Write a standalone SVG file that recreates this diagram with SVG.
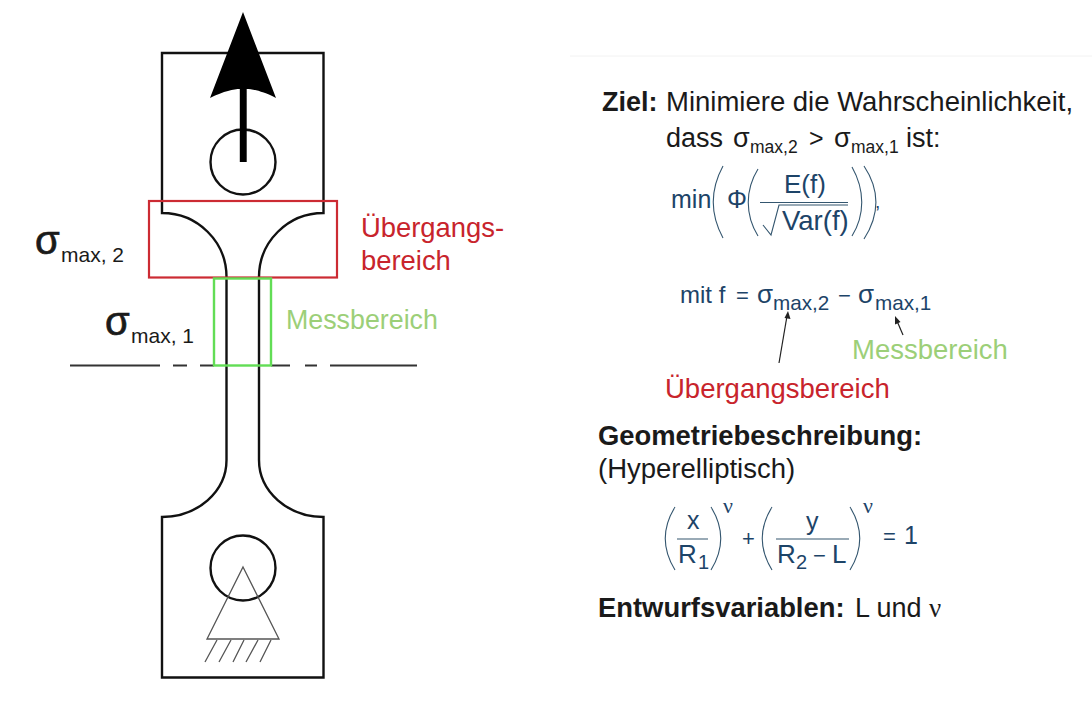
<svg xmlns="http://www.w3.org/2000/svg" width="1092" height="703" viewBox="0 0 1092 703">
<defs>
<style>
text{font-family:"Liberation Sans",Arial,sans-serif;white-space:pre}
.k{fill:#1a1a1a}
.b{font-weight:bold}
.m{fill:#1d4468}
.r{fill:#c8242c}
.g{fill:#9ccf78}
.o{fill:none;stroke:#111;stroke-width:2.4}
.t{fill:none;stroke:#555;stroke-width:1.3}
.p{fill:none;stroke:#34566f;stroke-width:1.1}
.a{fill:none;stroke:#222;stroke-width:1.2}
.s{font-family:"Liberation Serif",serif}
.h{stroke:#1a1a1a;stroke-width:.7}
</style>
</defs>
<rect width="1092" height="703" fill="#fff"/>
<line x1="570" y1="56" x2="1092" y2="56" stroke="#f2f2f2"/>
<g id="specimen">
<path class="o" d="M243 53H162V213A64.500 64 0 0 1 226.500 277V460A64.500 57 0 0 1 162 517V677.500H323.500V517A64.500 57 0 0 1 259 460V277A64.500 64 0 0 1 323.500 213V53H243"/>
</g>
<g id="hole-top"><circle class="o" cx="243" cy="162" r="32.500"/></g>
<g id="hole-bottom"><circle class="o" cx="243" cy="568" r="32.500"/></g>
<g id="section-line"><path fill="none" stroke="#333" stroke-width="1.800" d="M70 365.500H160M173 365.500H187M200 365.500H214M271 365.500H290M305 365.500H317M330 365.500H417"/></g>
<g id="support">
<path class="t" d="M243 567L279 639H207Z"/>
<path class="t" d="M217 640L205 662M231 640L219 662M244 640L233 662M258 640L246 662M271 640L260 662"/>
</g>
<g id="region-transition"><rect x="149" y="201" width="188" height="76.500" fill="none" stroke="#cc2b33" stroke-width="2.200"/></g>
<g id="region-measure"><rect x="214" y="278.500" width="57" height="87" fill="none" stroke="#62dd55" stroke-width="2.400"/></g>
<g id="connectors">
<path fill="#000" d="M243 12L276 98C262 91 252 89 246.700 89V162H239.800V89C234 89 224 91 210 98Z"/>
<path class="a" d="M779 363L787 316"/><path fill="#222" d="M788 311L790.500 319L784.500 318Z"/>
<path class="a" d="M903 335L897 321"/><path fill="#222" d="M895 316L900.500 322L895 324.500Z"/>
</g>
<g id="labels-left">
<text class="k h" x="35" y="254" font-size="40">σ</text>
<text class="k" x="61" y="262" font-size="21">max, 2</text>
<text class="k h" x="105" y="335" font-size="40">σ</text>
<text class="k" x="131" y="343" font-size="21">max, 1</text>
<text class="r" x="361" y="237" font-size="27.400">Übergangs-</text>
<text class="r" x="361" y="270" font-size="27.400">bereich</text>
<text class="g" x="286" y="329" font-size="26.800">Messbereich</text>
</g>
<g id="goal">
<text class="k b" x="602" y="111" font-size="27">Ziel:</text>
<text class="k" x="666" y="111" font-size="27.500">Minimiere die Wahrscheinlichkeit,</text>
<text class="k" x="666" y="147" font-size="27">dass</text>
<text class="k" x="733" y="147" font-size="27">σ</text>
<text class="k" x="750" y="153" font-size="17.500">max,2</text>
<text class="k" x="809" y="147" font-size="25">&gt;</text>
<text class="k" x="834" y="147" font-size="27">σ</text>
<text class="k" x="851" y="153" font-size="17.500">max,1</text>
<text class="k" x="906" y="147" font-size="27">ist:</text>
</g>
<g id="formula-min">
<text class="m" x="671" y="208" font-size="25">min</text>
<text class="m" x="727" y="208" font-size="25">Φ</text>
<text class="m" x="784" y="193" font-size="26">E(f)</text>
<text class="m" x="782" y="230" font-size="27.500">Var(f)</text>
<path class="p" d="M760 202.500H848"/>
<path class="p" d="M763 225L771 235L779 205H848"/>
<path class="p" d="M723 166C710 190 710 214 723 238M758 169C745 190 745 215 758 236M852 167C865 190 865 215 852 236M864 166C880 190 880 214 864 239"/>
<text class="m" x="875" y="208" font-size="19">,</text>
</g>
<g id="formula-f">
<text class="m" x="680" y="303" font-size="24">mit f</text>
<text class="m" x="736" y="303" font-size="22">=</text>
<text class="m" x="757" y="303" font-size="26">σ</text>
<text class="m" x="773" y="310" font-size="20.700">max,2</text>
<text class="m" x="838" y="303" font-size="22">−</text>
<text class="m" x="858" y="303" font-size="26">σ</text>
<text class="m" x="875" y="310" font-size="20.700">max,1</text>
</g>
<g id="labels-formula">
<text class="g" x="852" y="359" font-size="27.500">Messbereich</text>
<text class="r" x="665" y="398" font-size="27.500">Übergangsbereich</text>
</g>
<g id="geometry">
<text class="k b" x="598" y="445" font-size="27.400">Geometriebeschreibung:</text>
<text class="k" x="598" y="478" font-size="27.500">(Hyperelliptisch)</text>
</g>
<g id="formula-geometry">
<text class="m" x="687" y="529" font-size="25">x</text>
<text class="m" x="678" y="563" font-size="26">R</text>
<text class="m" x="698" y="569" font-size="20">1</text>
<path class="p" d="M677 539H708M776 539H849"/>
<path class="p" d="M675 507C662 528 662 549 675 570M711 507C724 528 724 549 711 570M772 507C759 528 759 549 772 570M850 507C863 528 863 549 850 570"/>
<text class="m s" x="723" y="513" font-size="22">ν</text>
<text class="m s" x="863" y="513" font-size="22">ν</text>
<text class="m" x="742" y="546" font-size="22">+</text>
<text class="m" x="806" y="530" font-size="25">y</text>
<text class="m" x="777" y="563" font-size="26">R</text>
<text class="m" x="796" y="569" font-size="20">2</text>
<text class="m" x="813" y="563" font-size="22">−</text>
<text class="m" x="832" y="563" font-size="26">L</text>
<text class="m" x="883" y="544" font-size="22">=</text>
<text class="m" x="904" y="544" font-size="25">1</text>
</g>
<g id="variables">
<text class="k b" x="598" y="617" font-size="27.400">Entwurfsvariablen:</text>
<text class="k" x="855" y="617" font-size="27">L und</text>
<text class="k s" x="929" y="617" font-size="27">ν</text>
</g>
</svg>
